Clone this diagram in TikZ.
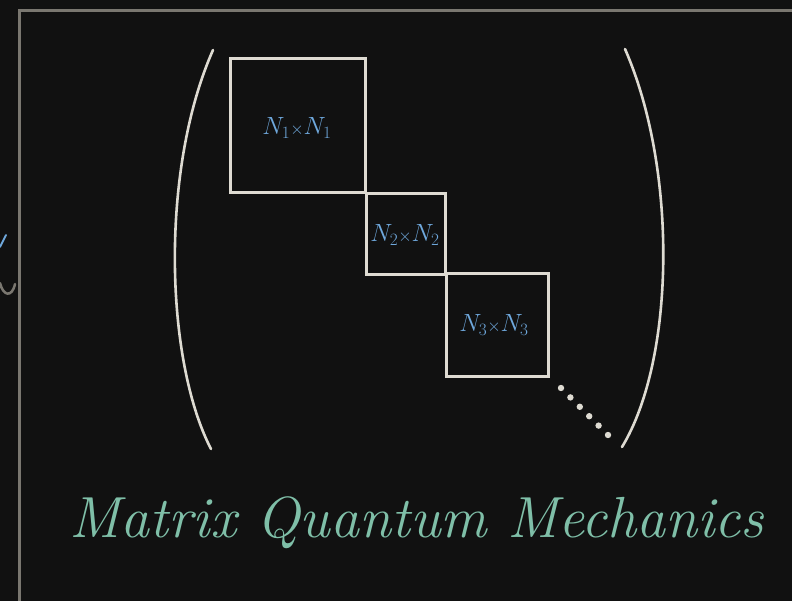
\documentclass[tikz,border=0pt]{standalone}
\usepackage{xcolor}
\definecolor{bg}{HTML}{111111}
\definecolor{framegray}{HTML}{7A7770}
\definecolor{chalk}{HTML}{DEDBD2}
\definecolor{lblblue}{HTML}{6FA8DC}
\definecolor{titleteal}{HTML}{7FBFA8}
\begin{document}
\begin{tikzpicture}[x=1pt,y=-1pt,
  boxline/.style={draw=chalk,line width=3pt},
  paren/.style={draw=chalk,line width=2.6pt,line cap=round},
  lbl/.style={text=lblblue,font=\fontsize{23}{27}\selectfont\itshape},
  dotfill/.style={fill=chalk}]
\fill[bg] (0,0) rectangle (792,601);
\useasboundingbox (0,0) rectangle (792,601);
% frame
\draw[framegray,line width=3pt] (19,601) -- (19,11) -- (792,11);
% fragments at left edge
\draw[lblblue,line width=2pt,line cap=round] (0,247) -- (6,235);
\draw[framegray,line width=2.5pt,line cap=round] (0,283) .. controls (3,296) and (12,298) .. (15,284);
% blocks
\draw[boxline] (230,59) rectangle (365,193);
\draw[boxline] (366,194) rectangle (445,275);
\draw[boxline] (446,274) rectangle (548,376);
\node[lbl] (n1) at (297,128) {$N_{1}{\scriptstyle\times}N_{1}$};
\node[lbl] (n2) at (405,235) {$N_{2}{\scriptstyle\times}N_{2}$};
\node[lbl] (n3) at (494,325) {$N_{3}{\scriptstyle\times}N_{3}$};
% dots
\foreach \i in {0,...,5} {
  \fill[dotfill] ({561+9.4*\i},{388+9.4*\i}) circle (3.2);
}
% parentheses
\draw[paren] (213,50) .. controls (160,170) and (165,360) .. (211,449);
\draw[paren] (625,49) .. controls (678,170) and (675,360) .. (622,447);
% title
\node[text=titleteal,font=\fontsize{58}{66}\selectfont\itshape] (title) at (417,523) {Matrix Quantum Mechanics};
\end{tikzpicture}
\end{document}
